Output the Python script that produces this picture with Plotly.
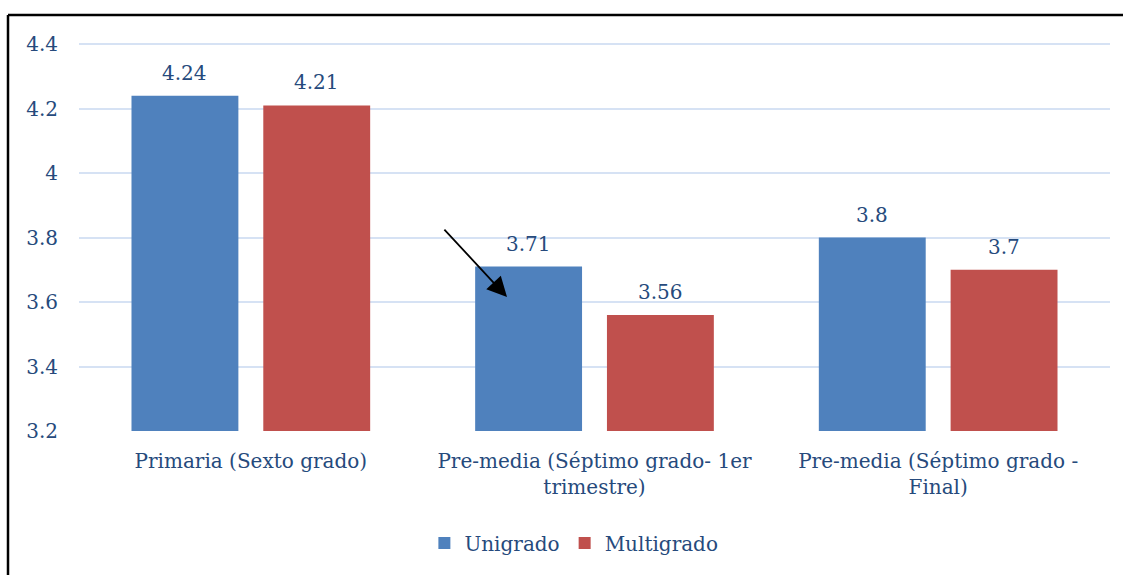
import plotly.graph_objects as go

categories = ["Primaria (Sexto grado)",
              "Pre-media (Séptimo grado- 1er<br>trimestre)",
              "Pre-media (Séptimo grado -<br>Final)"]
unigrado = [4.24, 3.71, 3.8]
multigrado = [4.21, 3.56, 3.7]
unigrado_labels = ["4.24", "3.71", "3.8"]
multigrado_labels = ["4.21", "3.56", "3.7"]
y_ticks = [3.2, 3.4, 3.6, 3.8, 4.0, 4.2, 4.4]
y_tick_labels = ["3.2", "3.4", "3.6", "3.8", "4", "4.2", "4.4"]

FONT = "DejaVu Serif"
TXT = "#264A7C"
FS = 20

fig = go.Figure()
fig.add_trace(go.Bar(name="Unigrado", x=categories, y=unigrado,
                     marker=dict(color="#4F81BD", line=dict(width=0))))
fig.add_trace(go.Bar(name="Multigrado", x=categories, y=multigrado,
                     marker=dict(color="#C0504D", line=dict(width=0))))

# value labels above bars
for vals, labs, shift in ((unigrado, unigrado_labels, -66),
                          (multigrado, multigrado_labels, 66)):
    for c, v, t in zip(categories, vals, labs):
        fig.add_annotation(x=c, y=v, xref="x", yref="y", text=t,
                           showarrow=False, xshift=shift, yshift=23,
                           yanchor="middle",
                           font=dict(family=FONT, size=FS, color=TXT))

W, H = 1123, 575
L, R, T, B = 79, 13, 41, 144
pw, ph = W - L - R, H - T - B
YMAX = 4.41

fig.update_layout(
    width=W, height=H,
    margin=dict(l=L, r=R, t=T, b=B),
    paper_bgcolor="white", plot_bgcolor="white",
    barmode="group", bargap=0.233, bargroupgap=0.189,
    font=dict(family=FONT, size=FS, color=TXT),
    legend=dict(orientation="h", x=0.48, xanchor="center",
                y=-(543 - (T + ph)) / ph, yanchor="middle",
                font=dict(family=FONT, size=FS, color=TXT),
                itemwidth=30, traceorder="normal"),
    xaxis=dict(showgrid=False, showline=False, ticks="",
               ticklabelstandoff=16,
               tickfont=dict(family=FONT, size=FS, color=TXT)),
    yaxis=dict(range=[3.2, YMAX], tickvals=y_ticks, ticktext=y_tick_labels,
               showgrid=True, gridcolor="#D6E2F4", gridwidth=2,
               zeroline=False, showline=False, ticks="",
               ticklabelstandoff=20,
               tickfont=dict(family=FONT, size=FS, color=TXT)),
    showlegend=True,
)

bx = (8 - L) / pw
by = 1 + (T - 15) / ph
fig.add_shape(type="line", xref="paper", yref="paper",
              x0=bx, y0=by, x1=1 + 20 / pw, y1=by,
              line=dict(color="black", width=2.5))
fig.add_shape(type="line", xref="paper", yref="paper",
              x0=bx, y0=by, x1=bx, y1=-(B + 20) / ph,
              line=dict(color="black", width=2.5))

fig.add_annotation(xref="paper", yref="y",
                   x=(507 - L) / pw, y=3.6155,
                   ax=-64, ay=-69, showarrow=True,
                   arrowhead=2, arrowsize=2.2, arrowwidth=1.8,
                   arrowcolor="black", text="")

fig.write_html("out.html", config={"displayModeBar": False})

with open("out.html", encoding="utf-8") as f:
    html = f.read()
html = html.replace("<body>", '<body style="margin:0;padding:0;overflow:hidden">', 1)
with open("out.html", "w", encoding="utf-8") as f:
    f.write(html)
